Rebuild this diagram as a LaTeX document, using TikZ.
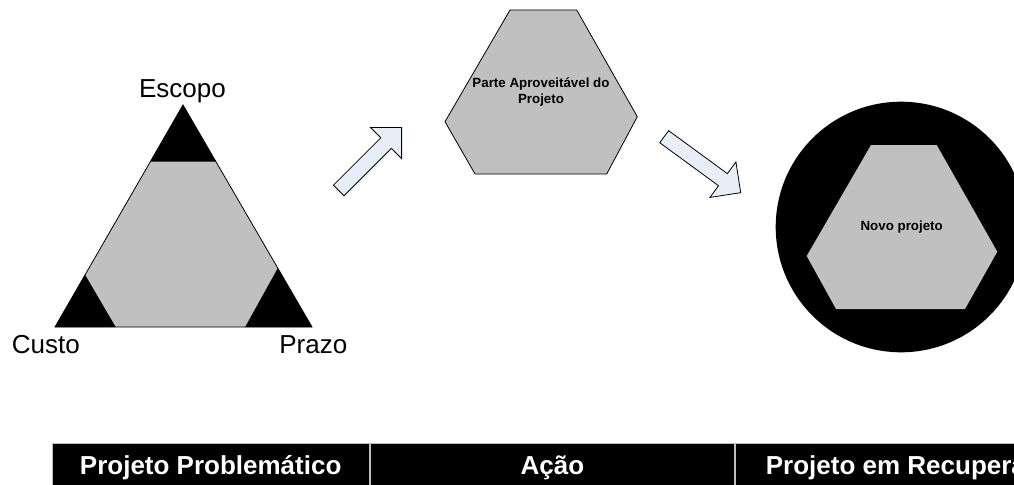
\documentclass[tikz,border=0pt]{standalone}
\usepackage{fontspec}
\setmainfont{Liberation Sans}
\usepackage{tikz}
\usetikzlibrary{calc, positioning}
\definecolor{hexgray}{RGB}{192,192,192}
\definecolor{arrowblue}{RGB}{232,238,248}
\definecolor{cellline}{RGB}{190,190,190}

\tikzset{
  bigtext/.style={font=\fontsize{19.5}{23}\selectfont},
  smalltext/.style={font=\fontsize{10}{11.3}\selectfont\bfseries, align=center},
  outline/.style={draw=black, line width=0.6pt},
  blockarrow/.style={outline, fill=arrowblue, line join=miter},
  headcell/.style={draw=cellline, line width=0.75pt, fill=black, text=white,
    font=\fontsize{19.5}{23}\selectfont\bfseries, minimum height=33pt,
    text height=14pt, text depth=0pt, inner sep=0pt}
}

% block arrow: tail point, angle, length
\newcommand{\flowarrow}[3]{%
  \begin{scope}[shift={#1}, rotate=#2]
    \draw[blockarrow] (0,-7.5) -- (#3-22,-7.5) -- (#3-22,-22) -- (#3,0)
      -- (#3-22,22) -- (#3-22,7.5) -- (0,7.5) -- cycle;
  \end{scope}}

\begin{document}
\begin{tikzpicture}[x=0.75pt, y=-0.75pt]
\clip (0,0) rectangle (1014,485);

% triangle
\coordinate (apex) at (183,105);
\coordinate (cl) at (55,327);
\coordinate (cr) at (312,327);

\fill[hexgray] (apex) -- (cl) -- (cr) -- cycle;
\fill (apex) -- ($(apex)!0.255!(cl)$) -- ($(apex)!0.255!(cr)$) -- cycle;
\fill (cl) -- ($(cl)!0.235!(apex)$) -- ($(cl)!0.236!(cr)$) -- cycle;
\fill (cr) -- ($(cr)!0.265!(apex)$) -- ($(cr)!0.26!(cl)$) -- cycle;
\draw[outline] (apex) -- (cl) -- (cr) -- cycle;

\node[bigtext, anchor=base] (escopo) at (182.5,97.3) {Escopo};
\node[bigtext, anchor=base] (custo) at (45.8,353.3) {Custo};
\node[bigtext, anchor=base] (prazo) at (313.3,353.3) {Prazo};

% arrows
\flowarrow{(338.7,190.5)}{45}{89}
\flowarrow{(664.2,136.7)}{-36.2}{94.8}

% part of the project
\draw[outline, fill=hexgray] (510,10) -- (576.7,10) -- (637.3,116.7)
  -- (606.7,174) -- (475,174) -- (445,121.7) -- cycle;
\node[smalltext] (parte) at (541,92) {Parte Aproveitável do\\Projeto};

% new project
\fill (901,227) circle [radius=125.3];
\fill[hexgray] (871,145) -- (936.7,145) -- (997.3,251.7) -- (965,309)
  -- (836,309) -- (806.7,256) -- cycle;
\node[smalltext, anchor=base] (novo) at (901.7,230) {Novo projeto};

% table head
\node[headcell, minimum width=237.75pt, anchor=north west] (problematico)
  at (51.7,442.7) {Projeto Problemático};
\node[headcell, minimum width=273.45pt, right=0pt of problematico] (acao) {Ação};
\node[headcell, minimum width=273.75pt, right=0pt of acao] (recuperacao)
  {Projeto em Recuperação};
\end{tikzpicture}
\end{document}
